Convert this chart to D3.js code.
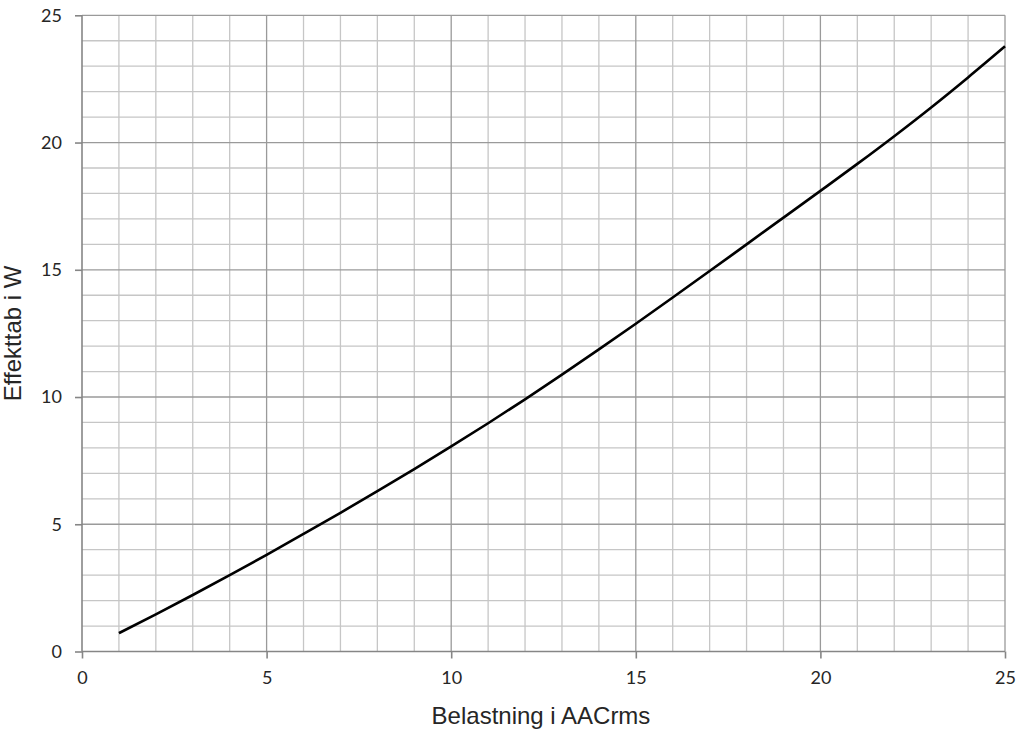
<!DOCTYPE html>
<html><head><meta charset="utf-8">
<script src="https://cdn.jsdelivr.net/npm/d3@7"></script>
<style>body{margin:0;background:#fff}</style>
</head><body>
<svg id="c" width="1019" height="731"></svg>
<script>
const xValues = [1,2,3,4,5,6,7,8,9,10,11,12,13,14,15,16,17,18,19,20,21,22,23,24,25];
const lossW = [0.72,1.46,2.22,3.0,3.8,4.62,5.45,6.3,7.17,8.06,8.97,9.91,10.88,11.87,12.88,13.91,14.95,16.0,17.05,18.1,19.16,20.25,21.38,22.56,23.78];
const xTicks = [0,5,10,15,20,25];
const yTicks = [0,5,10,15,20,25];
const xTitle = "Belastning i AACrms";
const yTitle = "Effekttab i W";

const svg = d3.select("#c");
const L=82, R=1005, T=15.3, B=651.5;
const x = d3.scaleLinear().domain([0,25]).range([L,R]);
const y = d3.scaleLinear().domain([0,25]).range([B,T]);
const minor = d3.range(0,26);

const g = svg.append("g");
// minor grid
g.selectAll(".vx").data(minor.filter(d=>d%5)).enter().append("line")
 .attr("x1",d=>x(d)).attr("x2",d=>x(d)).attr("y1",T).attr("y2",B)
 .attr("stroke","#c6c6c6").attr("stroke-width",1.3);
g.selectAll(".hy").data(minor.filter(d=>d%5)).enter().append("line")
 .attr("y1",d=>y(d)).attr("y2",d=>y(d)).attr("x1",L).attr("x2",R)
 .attr("stroke","#c6c6c6").attr("stroke-width",1.3);
// major grid
g.selectAll(".mx").data(xTicks.filter(d=>d>0)).enter().append("line")
 .attr("x1",d=>x(d)).attr("x2",d=>x(d)).attr("y1",T).attr("y2",B)
 .attr("stroke","#9a9a9a").attr("stroke-width",1.3);
g.selectAll(".my").data(yTicks.filter(d=>d>0)).enter().append("line")
 .attr("y1",d=>y(d)).attr("y2",d=>y(d)).attr("x1",L).attr("x2",R)
 .attr("stroke","#9a9a9a").attr("stroke-width",1.3);

// axes
const xAxis = d3.axisBottom(x).tickValues(xTicks).tickSize(7).tickPadding(13);
const yAxis = d3.axisLeft(y).tickValues(yTicks).tickSize(7).tickPadding(13);
const ax = svg.append("g").attr("transform",`translate(0,${B})`).call(xAxis);
const ay = svg.append("g").attr("transform",`translate(${L},0)`).call(yAxis);
[ax,ay].forEach(a=>{
  a.select(".domain").attr("stroke","#868686").attr("stroke-width",1.6);
  a.selectAll(".tick line").attr("stroke","#868686").attr("stroke-width",1.6);
  a.selectAll("text").attr("fill","#262626").style("font-family","Lato, 'Open Sans', sans-serif").style("font-size","18px");
});
ax.select(".domain").attr("d",`M${L},0H${R}`);
ay.select(".domain").attr("d",`M0,${B}V${T}`);

// line
const line = d3.line().x((d,i)=>x(xValues[i])).y(d=>y(d)).curve(d3.curveMonotoneX);
svg.append("path").datum(lossW).attr("d",line).attr("fill","none")
 .attr("stroke","#000").attr("stroke-width",2.6);

// titles
svg.append("text").attr("x",541).attr("y",724).attr("text-anchor","middle")
 .style("font-family","'Liberation Sans', Arial, sans-serif").style("font-size","24px").attr("fill","#262626").text(xTitle);
svg.append("text").attr("transform",`translate(21,${(T+B)/2}) rotate(-90)`).attr("text-anchor","middle")
 .style("font-family","'Liberation Sans', Arial, sans-serif").style("font-size","24px").attr("fill","#262626").text(yTitle);
</script>
</body></html>
